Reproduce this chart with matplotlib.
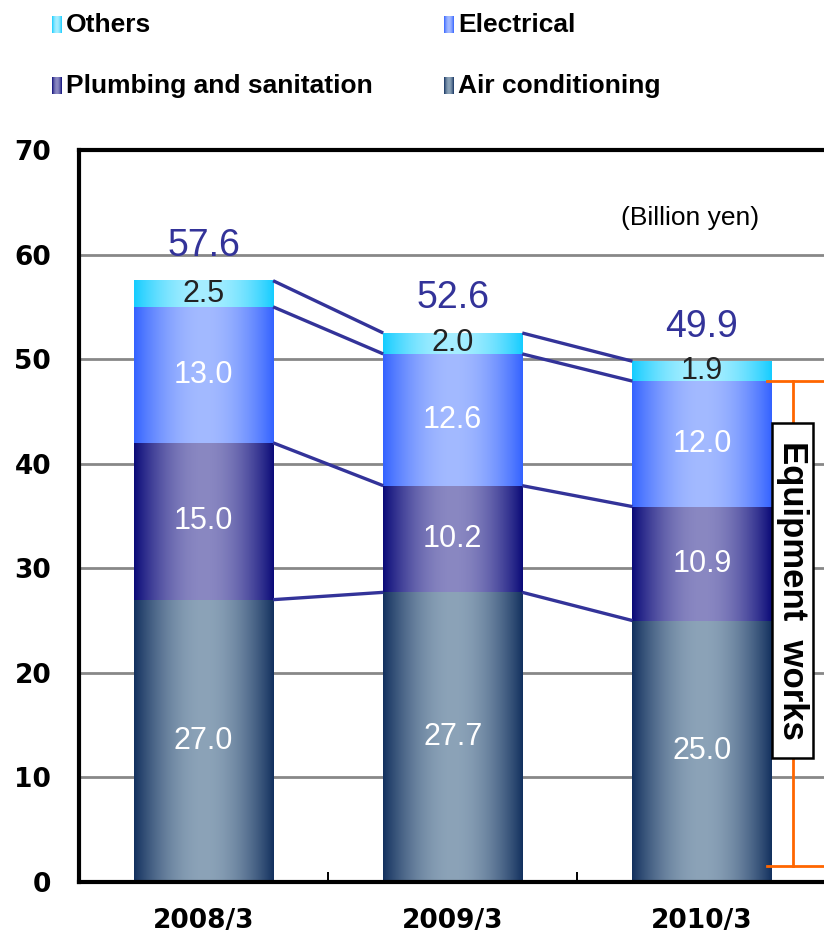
import numpy as np
import matplotlib
matplotlib.use("Agg")
import matplotlib.pyplot as plt
from matplotlib.colors import to_rgb
from matplotlib.patches import Rectangle

# data (billion yen)
years = ["2008/3", "2009/3", "2010/3"]
air = [27.0, 27.7, 25.0]
plumbing = [15.0, 10.2, 10.9]
electrical = [13.0, 12.6, 12.0]
others = [2.5, 2.0, 1.9]
totals = [57.6, 52.6, 49.9]

series = [
    ("Air conditioning", air, "#12305e", "#8ca3b8", "white"),
    ("Plumbing and sanitation", plumbing, "#0a0a78", "#8a88c2", "white"),
    ("Electrical", electrical, "#3362ff", "#a3baff", "white"),
    ("Others", others, "#14ccff", "#a6eeff", "#222222"),
]


def gradient(edge, center, n=200):
    t = np.sin(np.pi * np.linspace(0, 1, n)) ** 0.9
    e = np.array(to_rgb(edge))
    c = np.array(to_rgb(center))
    return (e[None, :] + (c - e)[None, :] * t[:, None])[None, :, :]


fig = plt.figure(figsize=(8.24, 9.4), dpi=100)
ax = fig.add_axes([79 / 824, 58 / 940, 747.5 / 824, 732 / 940])

x = np.arange(len(years))
w = 0.558
bottom = np.zeros(len(years))
tops = []
for name, vals, edge, center, tcol in series:
    bars = ax.bar(x, vals, bottom=bottom, width=w, color="none", zorder=2)
    img = gradient(edge, center)
    for b, v in zip(bars, vals):
        x0, y0 = b.get_x(), b.get_y()
        ax.imshow(img, extent=[x0, x0 + b.get_width(), y0, y0 + b.get_height()],
                  aspect="auto", zorder=2, interpolation="bilinear")
        ax.text(x0 + b.get_width() / 2, y0 + b.get_height() / 2, f"{v:.1f}",
                ha="center", va="center", color=tcol, fontsize=22,
                family="Liberation Sans", zorder=4)
    bottom = bottom + np.array(vals)
    tops.append(bottom.copy())

# connector lines between bars
for top in tops:
    for i in range(len(years) - 1):
        ax.plot([x[i] + w / 2, x[i + 1] - w / 2], [top[i], top[i + 1]],
                color="#333399", lw=2.4, zorder=3, solid_capstyle="butt")

# totals
for i, t in enumerate(totals):
    ax.text(x[i], tops[-1][i] + 3.3, f"{t:.1f}", ha="center", va="center",
            color="#333399", fontsize=27, family="Liberation Sans", zorder=4)

ax.text(1.954, 63.5, "(Billion yen)", ha="center", va="center", fontsize=19,
        family="Liberation Sans", color="black")

# equipment works bracket
ax.plot([2.367, 2.367], [1.5, tops[2][2]], color="#ff6600", lw=2, zorder=5, clip_on=False)
ax.plot([2.263, 2.52], [tops[2][2], tops[2][2]], color="#ff6600", lw=2, zorder=5, clip_on=False)
ax.plot([2.263, 2.52], [1.5, 1.5], color="#ff6600", lw=2, zorder=5, clip_on=False)
ax.add_patch(Rectangle((2.283, 11.9), 0.161, 32.0, facecolor="white",
                       edgecolor="black", lw=1.8, zorder=6, clip_on=False))
ax.text(2.363, 27.9, "Equipment  works", rotation=270, ha="center", va="center",
        fontsize=25, family="Liberation Sans", fontweight="bold", zorder=7)

ax.set_xlim(-0.5, 2.5)
ax.set_ylim(0, 70)
ax.set_yticks(range(0, 80, 10))
ax.set_xticks(x)
ax.set_xticklabels(years)
ax.set_xticks([0.5, 1.5], minor=True)
ax.yaxis.grid(True, color="#888888", lw=2, zorder=0)
ax.set_axisbelow(True)
ax.tick_params(axis="y", length=0, pad=20, labelsize=19)
ax.tick_params(axis="x", which="major", length=0, pad=19, labelsize=19)
ax.tick_params(axis="x", which="minor", direction="in", length=7, width=1.4)
for lab in ax.get_xticklabels() + ax.get_yticklabels():
    lab.set_fontweight("bold")
    lab.set_family("DejaVu Sans")
for s in ["left", "top", "bottom"]:
    ax.spines[s].set_linewidth(3)
    ax.spines[s].set_color("black")
ax.spines["right"].set_visible(False)

# legend
leg = [("Others", "#14ccff", "#a6eeff", 66, 25),
       ("Electrical", "#3362ff", "#a3baff", 458, 25),
       ("Plumbing and sanitation", "#0a0a78", "#8a88c2", 66, 86),
       ("Air conditioning", "#12305e", "#8ca3b8", 458, 86)]
for name, edge, center, px, py in leg:
    fy = 1 - py / 940
    m = fig.add_axes([(px - 14) / 824, fy - 8.5 / 940, 10 / 824, 17 / 940])
    m.imshow(gradient(edge, center), aspect="auto")
    m.axis("off")
    fig.text(px / 824, fy, name, ha="left", va="center", fontsize=19,
             family="Liberation Sans", fontweight="bold")

fig.savefig("out.png", dpi=100)
